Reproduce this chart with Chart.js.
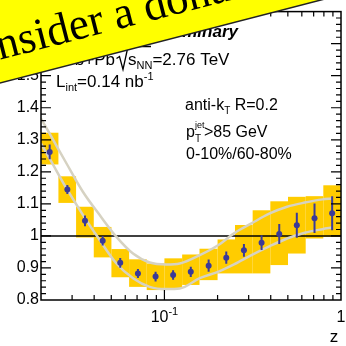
<!DOCTYPE html>
<html>
<head>
<meta charset="utf-8">
<script src="https://cdn.jsdelivr.net/npm/chart.js@4.4.1/dist/chart.umd.min.js"></script>
<style>
  html, body { margin: 0; padding: 0; background: #fff; }
  #wrap { width: 346px; height: 346px; }
</style>
</head>
<body>
<div id="wrap"><canvas id="myChart" width="346" height="346"></canvas></div>
<script>
const FONT = '"Liberation Sans", Arial, Helvetica, sans-serif';

// bin centres and edges in z
const zMid = [0.0224, 0.0282, 0.0355, 0.0447, 0.0562, 0.0708, 0.0891, 0.112, 0.141,
  0.178, 0.224, 0.282, 0.355, 0.447, 0.562, 0.708, 0.891];
const binLo = [0.02, 0.0251, 0.0316, 0.0398, 0.0501, 0.0631, 0.0794, 0.1, 0.126,
  0.158, 0.2, 0.251, 0.316, 0.398, 0.501, 0.631, 0.794];
const binHi = [0.0251, 0.0316, 0.0398, 0.0501, 0.0631, 0.0794, 0.1, 0.126, 0.158,
  0.2, 0.251, 0.316, 0.398, 0.501, 0.631, 0.794, 1.0];

// R_CP ratio, stat error, systematic box top / bottom
const ratio = [1.262, 1.145, 1.047, 0.985, 0.916, 0.883, 0.873, 0.878, 0.888,
  0.907, 0.932, 0.955, 0.979, 1.006, 1.033, 1.055, 1.071];
const statErr = [0.023, 0.014, 0.017, 0.015, 0.015, 0.014, 0.015, 0.015, 0.016,
  0.019, 0.019, 0.020, 0.023, 0.031, 0.039, 0.046, 0.053];
const sysHi = [1.322, 1.186, 1.091, 1.028, 0.959, 0.927, 0.914, 0.930, 0.942,
  0.960, 0.989, 1.034, 1.080, 1.108, 1.122, 1.124, 1.158];
const sysLo = [1.223, 1.103, 0.995, 0.933, 0.871, 0.841, 0.831, 0.836, 0.847,
  0.862, 0.883, 0.883, 0.883, 0.909, 0.945, 0.992, 0.997];

// grey band edges
const bandZ = [0.0200, 0.0224, 0.0279, 0.0346, 0.0430, 0.0535, 0.0664, 0.0825, 0.1026,
  0.1221, 0.1585, 0.2012, 0.2479, 0.3111, 0.3950, 0.4951, 0.6235, 0.7856, 0.8905];
const bandUp = [1.366, 1.319, 1.226, 1.137, 1.065, 0.997, 0.945, 0.917, 0.911,
  0.914, 0.940, 0.971, 1.008, 1.039, 1.070, 1.091, 1.104, 1.114, 1.117];
const bandDn = [1.288, 1.241, 1.148, 1.065, 0.987, 0.914, 0.868, 0.841, 0.834,
  0.836, 0.868, 0.888, 0.911, 0.940, 0.968, 0.992, 1.010, 1.021, 1.026];

const yMin = 0.8, yMax = 1.7, zMin = 0.02, zMax = 1;

function rich(ctx, x, y, parts) {
  parts.forEach(function (p) {
    ctx.font = (p.f || '') + ' ' + (p.s || 17) + 'px ' + FONT;
    ctx.fillText(p.t, x, y + (p.dy || 0));
    x += ctx.measureText(p.t).width;
  });
  return x;
}

const atlasPlugin = {
  id: 'atlas',
  beforeDatasetsDraw(chart) {
    const { ctx, chartArea: a } = chart;
    const x = chart.scales.x, y = chart.scales.y;
    ctx.save();
    ctx.beginPath();
    ctx.rect(a.left, a.top, a.right - a.left, a.bottom - a.top);
    ctx.clip();
    ctx.fillStyle = '#ffcc00';
    zMid.forEach(function (z, i) {
      const x0 = x.getPixelForValue(binLo[i]), x1 = x.getPixelForValue(binHi[i]);
      const y0 = y.getPixelForValue(sysHi[i]), y1 = y.getPixelForValue(sysLo[i]);
      ctx.fillRect(x0, y0, x1 - x0, y1 - y0);
    });
    const y1 = y.getPixelForValue(1);
    ctx.strokeStyle = '#000';
    ctx.lineWidth = 1.5;
    ctx.beginPath();
    ctx.moveTo(a.left, y1);
    ctx.lineTo(a.right, y1);
    ctx.stroke();
    ctx.restore();
  },
  beforeDatasetDraw(chart, args) {
    if (args.index !== 0) return;
    const ctx = chart.ctx, x = chart.scales.x, y = chart.scales.y;
    ctx.save();
    ctx.strokeStyle = '#3a3a98';
    ctx.lineWidth = 2;
    ctx.beginPath();
    zMid.forEach(function (z, i) {
      const px = x.getPixelForValue(z);
      ctx.moveTo(px, y.getPixelForValue(ratio[i] + statErr[i]));
      ctx.lineTo(px, y.getPixelForValue(ratio[i] - statErr[i]));
    });
    ctx.stroke();
    ctx.restore();
  },
  afterDraw(chart) {
    const { ctx, chartArea: a } = chart;
    const x = chart.scales.x, y = chart.scales.y;
    ctx.save();
    ctx.strokeStyle = '#000';
    ctx.lineWidth = 1.5;
    ctx.strokeRect(a.left, a.top, a.right - a.left, a.bottom - a.top);

    // ticks inside the frame
    ctx.lineWidth = 1.2;
    ctx.beginPath();
    [0.01, 0.1].forEach(function (dec) {
      for (let k = 1; k <= 9; k++) {
        const v = k * dec;
        if (v <= zMin * 1.001 || v >= zMax) continue;
        const px = x.getPixelForValue(v), len = k === 1 ? 10 : 5;
        ctx.moveTo(px, a.bottom); ctx.lineTo(px, a.bottom - len);
        ctx.moveTo(px, a.top); ctx.lineTo(px, a.top + len);
      }
    });
    for (let i = 1; i < 45; i++) {
      const py = y.getPixelForValue(yMin + i * 0.02), len = i % 5 === 0 ? 10 : 5;
      ctx.moveTo(a.left, py); ctx.lineTo(a.left + len, py);
      ctx.moveTo(a.right, py); ctx.lineTo(a.right - len, py);
    }
    ctx.stroke();

    // x axis labels
    ctx.fillStyle = '#000';
    ctx.textBaseline = 'alphabetic';
    ctx.textAlign = 'left';
    ctx.font = '16px ' + FONT;
    const w10 = ctx.measureText('10').width;
    ctx.font = '11px ' + FONT;
    const wExp = ctx.measureText('-1').width;
    const p01 = x.getPixelForValue(0.1);
    rich(ctx, p01 - (w10 + wExp) / 2, 322, [{ t: '10', s: 16 }, { t: '-1', s: 11, dy: -7 }]);
    ctx.textAlign = 'center';
    ctx.font = '16px ' + FONT;
    ctx.fillText('1', x.getPixelForValue(1), 322);
    ctx.font = '17px ' + FONT;
    ctx.fillText('z', 334, 342);

    // labels in the plot
    ctx.textAlign = 'right';
    ctx.font = 'italic bold 17px ' + FONT;
    ctx.fillText('ATLAS Preliminary', 238, 37);
    ctx.font = '17px ' + FONT;
    ctx.fillText('Pb+Pb', 115, 65);
    ctx.textAlign = 'left';
    ctx.lineWidth = 1.3;
    ctx.beginPath();
    ctx.moveTo(116.5, 58.5); ctx.lineTo(119.5, 56.5);
    ctx.lineTo(123, 69.5); ctx.lineTo(128, 46.5); ctx.lineTo(151, 46.5);
    ctx.stroke();
    rich(ctx, 128, 65, [{ t: 's' }, { t: 'NN', s: 11, dy: 4 }, { t: '=2.76 TeV' }]);
    rich(ctx, 56, 87, [{ t: 'L' }, { t: 'int', s: 11, dy: 4 }, { t: '=0.14 nb' }, { t: '-1', s: 11, dy: -7 }]);

    rich(ctx, 185, 110, [{ t: 'anti-k', s: 16 }, { t: 'T', s: 10, dy: 4 }, { t: ' R=0.2', s: 16 }]);
    let px = rich(ctx, 186, 136.5, [{ t: 'p', s: 16 }]);
    rich(ctx, px, 136.5, [{ t: 'jet', s: 9, dy: -9 }]);
    rich(ctx, px, 136.5, [{ t: 'T', s: 10, dy: 5 }]);
    rich(ctx, px + 9, 136.5, [{ t: '>85 GeV', s: 16 }]);
    rich(ctx, 186, 159, [{ t: '0-10%/60-80%', s: 16 }]);

    // yellow banner across the corner
    ctx.translate(0, 83);
    ctx.rotate(-14.5 * Math.PI / 180);
    ctx.fillStyle = '#ffff00';
    ctx.fillRect(-120, -220, 600, 220);
    ctx.strokeStyle = '#222';
    ctx.lineWidth = 1.5;
    ctx.beginPath();
    ctx.moveTo(-120, 0); ctx.lineTo(480, 0);
    ctx.stroke();
    ctx.fillStyle = '#000';
    ctx.font = '45px "Liberation Serif", "Times New Roman", serif';
    ctx.fillText('Consider a donation', -47, -22.5);
    ctx.restore();
  }
};

document.addEventListener("DOMContentLoaded", function () {
  const ctx = document.getElementById("myChart").getContext("2d");

  const data = {
    datasets: [
      {
        type: "scatter",
        data: zMid.map((z, i) => ({ x: z, y: ratio[i] })),
        pointRadius: 3,
        pointBackgroundColor: "#3a3a98",
        pointBorderWidth: 0,
      },
      {
        type: "line",
        data: bandZ.map((z, i) => ({ x: z, y: bandUp[i] })),
        borderColor: "#d6d2c2",
        borderWidth: 2.5,
        pointRadius: 0,
        cubicInterpolationMode: "monotone",
        fill: false,
      },
      {
        type: "line",
        data: bandZ.map((z, i) => ({ x: z, y: bandDn[i] })),
        borderColor: "#d6d2c2",
        borderWidth: 2.5,
        pointRadius: 0,
        cubicInterpolationMode: "monotone",
        fill: false,
      },
    ],
  };

  const config = {
    type: "scatter",
    data: data,
    options: {
      responsive: false,
      animation: false,
      layout: { padding: { top: 11, right: 5, left: 0, bottom: 0 } },
      scales: {
        x: {
          type: "logarithmic",
          min: zMin,
          max: zMax,
          grid: { display: false },
          border: { display: false },
          ticks: { display: false },
          afterFit: function (s) { s.height = 46; },
        },
        y: {
          type: "linear",
          min: yMin,
          max: yMax,
          grid: { display: false, drawTicks: false },
          border: { display: false },
          ticks: {
            stepSize: 0.1,
            padding: 2,
            color: "#000",
            font: { family: FONT, size: 16 },
            callback: function (v) { return String(+v.toFixed(1)); },
          },
          afterFit: function (s) { s.width = 41; },
        },
      },
      plugins: {
        legend: { display: false },
        tooltip: { enabled: false },
      },
    },
    plugins: [atlasPlugin],
  };

  const myChart = new Chart(ctx, config);
});
</script>
</body>
</html>
